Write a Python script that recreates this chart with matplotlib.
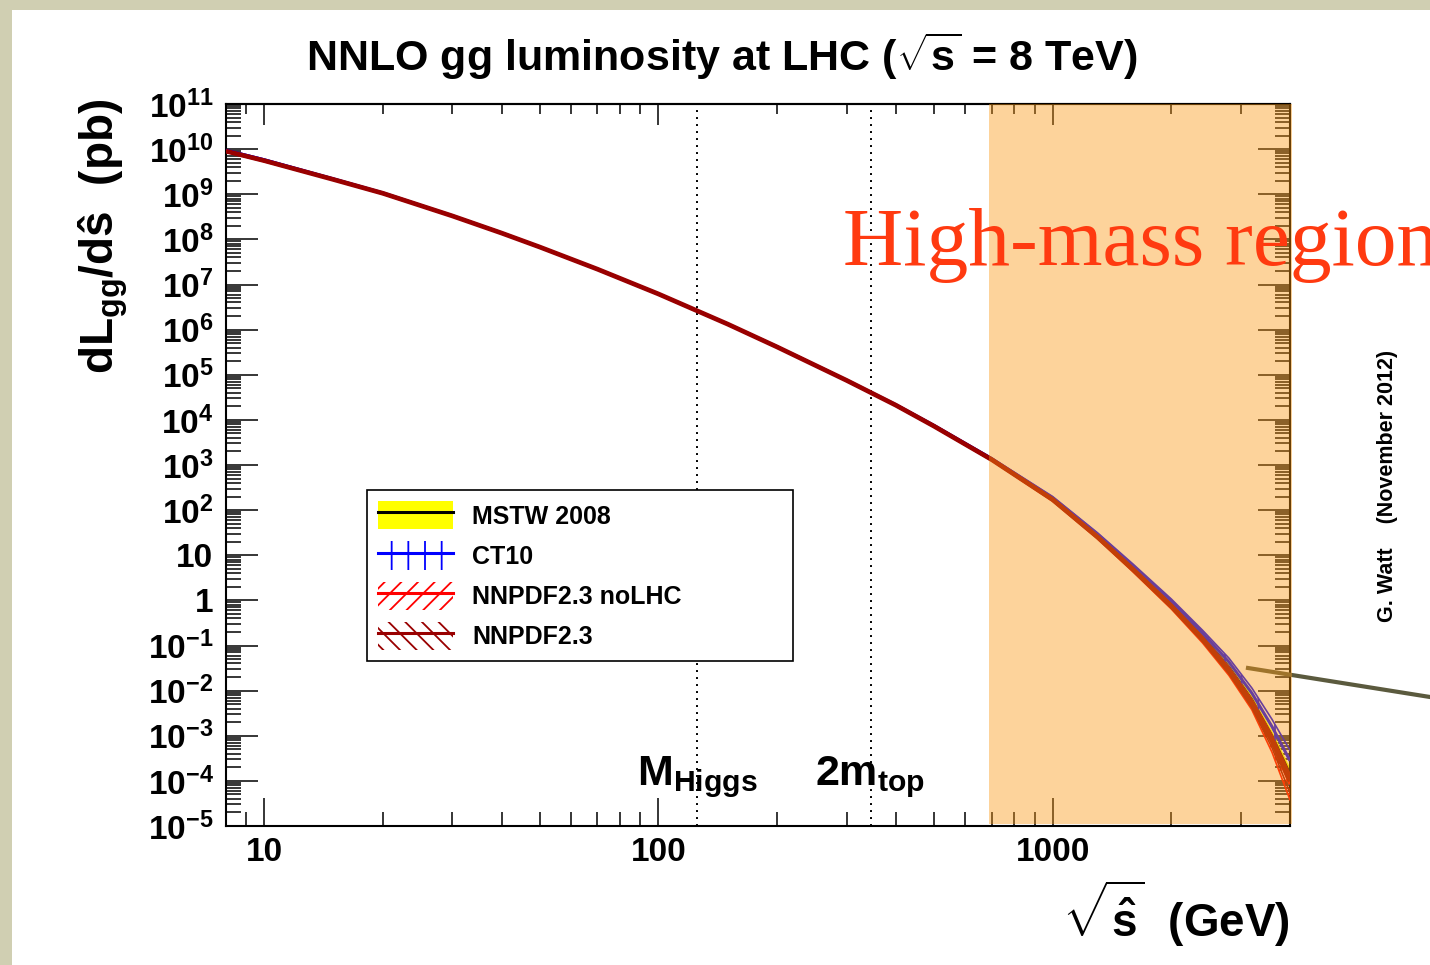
import numpy as np
import matplotlib
matplotlib.use('Agg')
import matplotlib.pyplot as plt
from matplotlib.patches import Rectangle, Patch
from matplotlib.lines import Line2D
from matplotlib.legend_handler import HandlerTuple
import matplotlib.transforms as mtransforms
from matplotlib.ticker import FixedLocator, FixedFormatter, LogLocator, NullFormatter

plt.rcParams['font.family'] = ['Liberation Sans', 'DejaVu Sans']
plt.rcParams['font.weight'] = 'bold'
plt.rcParams['axes.labelweight'] = 'bold'
plt.rcParams['mathtext.fontset'] = 'custom'
plt.rcParams['mathtext.rm'] = 'Liberation Sans:bold'
plt.rcParams['mathtext.it'] = 'Liberation Sans:bold'
plt.rcParams['mathtext.bf'] = 'Liberation Sans:bold'
plt.rcParams['mathtext.sf'] = 'Liberation Sans:bold'
plt.rcParams['hatch.linewidth'] = 1.3

# ---------------- data ----------------
sqrt_s_hat = [8, 10, 15, 20, 30, 40, 50, 70, 100, 150, 200, 300, 400, 500,
              700, 1000, 1300, 1600, 2000, 2400, 2800, 3200, 3600, 4000]
lum_mstw = [9.12e9, 5.62e9, 2.14e9, 1.05e9, 3.31e8, 1.38e8, 6.76e7, 2.19e7,
            6.17e6, 1.32e6, 4.17e5, 7.59e4, 2.14e4, 7.41e3, 1.35e3, 178.0,
            26.9, 5.25, 0.832, 0.158, 0.0331, 0.00631, 0.00100, 1.4e-4]
mstw_err = [0.03, 0.03, 0.03, 0.03, 0.03, 0.03, 0.03, 0.03, 0.03, 0.03, 0.03,
            0.03, 0.04, 0.04, 0.05, 0.06, 0.08, 0.10, 0.12, 0.16, 0.20, 0.24,
            0.30, 0.40]
ct10_ratio = [1.03, 1.03, 1.02, 1.02, 1.01, 1.01, 1.0, 1.0, 1.0, 1.0, 1.0,
              1.0, 1.01, 1.01, 1.02, 1.05, 1.08, 1.10, 1.15, 1.20, 1.30, 1.40,
              1.60, 2.00]
ct10_err = [0.04, 0.04, 0.03, 0.03, 0.03, 0.03, 0.03, 0.03, 0.03, 0.03, 0.03,
            0.03, 0.04, 0.04, 0.05, 0.07, 0.08, 0.10, 0.12, 0.15, 0.22, 0.30,
            0.45, 0.70]
nnpdf_nolhc_ratio = [0.98, 0.98, 0.99, 0.99, 1.0, 1.0, 1.0, 1.0, 1.0, 1.0,
                     0.99, 0.99, 0.98, 0.98, 0.97, 0.95, 0.93, 0.90, 0.88,
                     0.85, 0.82, 0.80, 0.72, 0.60]
nnpdf_nolhc_err = [0.04, 0.04, 0.03, 0.03, 0.03, 0.03, 0.03, 0.03, 0.03, 0.03,
                   0.03, 0.03, 0.04, 0.04, 0.05, 0.07, 0.08, 0.10, 0.12, 0.15,
                   0.20, 0.25, 0.40, 0.55]
nnpdf_ratio = [0.99, 0.99, 0.99, 1.0, 1.0, 1.0, 1.0, 1.0, 1.0, 1.0, 0.99,
               0.99, 0.99, 0.98, 0.98, 0.96, 0.94, 0.92, 0.90, 0.88, 0.85,
               0.83, 0.78, 0.70]
nnpdf_err = [0.03, 0.03, 0.03, 0.03, 0.03, 0.03, 0.03, 0.03, 0.03, 0.03,
             0.03, 0.03, 0.03, 0.04, 0.04, 0.05, 0.06, 0.08, 0.10, 0.12,
             0.16, 0.20, 0.30, 0.45]

legend_labels = ['MSTW 2008', 'CT10', 'NNPDF2.3 noLHC', 'NNPDF2.3']
m_higgs = 125.0
two_m_top = 346.0
high_mass_start = 690.0

xtick_values = [10, 100, 1000]
xtick_labels = ['10', '100', '1000']
ytick_values = [10.0 ** k for k in range(-5, 12)]
ytick_labels = ['$10^{-5}$', '$10^{-4}$', '$10^{-3}$', '$10^{-2}$', '$10^{-1}$',
                '1', '10', '$10^{2}$', '$10^{3}$', '$10^{4}$', '$10^{5}$',
                '$10^{6}$', '$10^{7}$', '$10^{8}$', '$10^{9}$', '$10^{10}$',
                '$10^{11}$']

# ---------------- figure ----------------
W, H = 1430, 965
fig = plt.figure(figsize=(W / 100, H / 100), dpi=100)
fig.patch.set_facecolor('#d0cfb2')
fig.add_artist(Rectangle((12 / W, 0), 1 - 12 / W, 1 - 10 / H,
                         transform=fig.transFigure, facecolor='white',
                         edgecolor='none', zorder=-10))

ax = fig.add_axes([226 / W, 1 - 826 / H, 1064 / W, 722 / H])
ax.set_xscale('log')
ax.set_yscale('log')
ax.set_xlim(8, 4000)
ax.set_ylim(1e-5, 1e11)
ax.set_facecolor('none')

x = np.array(sqrt_s_hat, dtype=float)
mstw = np.array(lum_mstw)

sets = [
    ('MSTW 2008', np.ones_like(mstw), np.array(mstw_err), 'black', None),
    ('CT10', np.array(ct10_ratio), np.array(ct10_err), '#0000ff', '|'),
    ('NNPDF2.3 noLHC', np.array(nnpdf_nolhc_ratio), np.array(nnpdf_nolhc_err), '#ff0000', '//'),
    ('NNPDF2.3', np.array(nnpdf_ratio), np.array(nnpdf_err), '#990000', '\\\\'),
]

z = 2.0
for name, ratio, err, col, hatch in sets:
    cen = mstw * ratio
    up = cen * (1 + err)
    lo = cen * (1 - err)
    if hatch is None:
        ax.fill_between(x, lo, up, facecolor='#ffff00', edgecolor='none', zorder=z)
        ax.plot(x, cen, color=col, lw=2.0, zorder=z + 0.1)
    else:
        ax.fill_between(x, lo, up, facecolor='none', edgecolor=col, hatch=hatch,
                        linewidth=0, zorder=z)
        ax.plot(x, up, color=col, lw=1.2, zorder=z + 0.1)
        ax.plot(x, lo, color=col, lw=1.2, zorder=z + 0.1)
        ax.plot(x, cen, color=col, lw=3.4 if name == 'NNPDF2.3' else 2.2,
                zorder=z + 0.2, solid_capstyle='butt')
    z += 0.5

# vertical dotted lines
for xv in (m_higgs, two_m_top):
    ax.axvline(xv, color='black', ls=(0, (1, 2.6)), lw=1.4, zorder=1.8)

# ticks
ax.xaxis.set_major_locator(FixedLocator(xtick_values))
ax.xaxis.set_major_formatter(FixedFormatter(xtick_labels))
ax.xaxis.set_minor_locator(LogLocator(base=10, subs=np.arange(2, 10), numticks=50))
ax.xaxis.set_minor_formatter(NullFormatter())
ax.yaxis.set_major_locator(FixedLocator(ytick_values))
ax.yaxis.set_major_formatter(FixedFormatter(ytick_labels))
ax.yaxis.set_minor_locator(LogLocator(base=10, subs=np.arange(2, 10), numticks=100))
ax.yaxis.set_minor_formatter(NullFormatter())

ax.tick_params(axis='y', which='both', direction='in', left=True, right=True,
               labelsize=24, pad=9, width=1.1)
ax.tick_params(axis='y', which='major', length=23)
ax.tick_params(axis='y', which='minor', length=11)
ax.tick_params(axis='x', which='both', direction='in', bottom=True, top=False,
               labelsize=24, pad=8, width=1.1)
ax.tick_params(axis='x', which='major', length=20)
ax.tick_params(axis='x', which='minor', length=10)

sec = ax.secondary_xaxis('top')
sec.xaxis.set_major_locator(FixedLocator(xtick_values))
sec.xaxis.set_minor_locator(LogLocator(base=10, subs=np.arange(2, 10), numticks=50))
sec.xaxis.set_minor_formatter(NullFormatter())
sec.tick_params(axis='x', which='both', direction='in', labeltop=False, width=1.1)
sec.tick_params(axis='x', which='major', length=15)
sec.tick_params(axis='x', which='minor', length=7.5)
sec.spines['top'].set_linewidth(1.5)

for sp in ax.spines.values():
    sp.set_linewidth(1.5)

# annotations
ax.text(88, 8.1e-5, r'M$_{\mathrm{Higgs}}$', fontsize=31, va='baseline', ha='left', zorder=3)
ax.text(249, 8.1e-5, r'2m$_{\mathrm{top}}$', fontsize=31, va='baseline', ha='left', zorder=3)

# legend
handles = [
    (Patch(facecolor='#ffff00', edgecolor='none'), Line2D([], [], color='black', lw=2.2)),
    (Patch(facecolor='none', edgecolor='#0000ff', hatch='|', lw=0), Line2D([], [], color='#0000ff', lw=2.2)),
    (Patch(facecolor='none', edgecolor='#ff0000', hatch='//', lw=0), Line2D([], [], color='#ff0000', lw=2.2)),
    (Patch(facecolor='none', edgecolor='#990000', hatch='\\\\', lw=0), Line2D([], [], color='#990000', lw=2.2)),
]
leg = ax.legend(handles, legend_labels, handler_map={tuple: HandlerTuple(ndivide=1, pad=0)},
                loc='upper left', bbox_to_anchor=(0.1325, 0.1994, 0.4005, 0.266),
                mode='expand', frameon=True, fancybox=False, edgecolor='black',
                framealpha=1, fontsize=18, handlelength=3.0, handleheight=1.36,
                handletextpad=0.75, labelspacing=0.48, borderpad=0.45, borderaxespad=0)
leg.get_frame().set_linewidth(1.2)
leg.set_zorder(6)

# axis titles
ax.set_xlabel(r'$\sqrt{\hat{\mathrm{s}}}$  (GeV)', fontsize=33, ha='right',
              fontweight='bold')
ax.xaxis.set_label_coords(1.0, -0.072)
ax.xaxis.label.set_va('top')
fig.text(103 / W, 1 - 236 / H, 'dL$_{\\mathrm{gg}}$/dŝ  (pb)', rotation=90,
         ha='center', va='center', fontsize=33)
fig.text(722 / W, 1 - 56 / H, r'NNLO gg luminosity at LHC ($\sqrt{\mathrm{s}}$ = 8 TeV)',
         ha='center', va='center', fontsize=31)

# pointer line (under the overlay)
ax.add_line(Line2D([1248 / W, 1.0], [1 - 668 / H, 1 - 697 / H], transform=fig.transFigure,
                   color='#5b5a3e', lw=3.0, clip_on=False, zorder=9))

# high-mass overlay
blend = mtransforms.blended_transform_factory(ax.transData, ax.transAxes)
ax.add_patch(Rectangle((high_mass_start, 0.003), 4040 - high_mass_start, 0.997,
                       transform=blend, facecolor='#fc9811', alpha=0.42,
                       edgecolor='none', clip_on=False, zorder=10))

fig.text(843 / W, 1 - 265 / H, 'High-mass region', fontfamily='Liberation Serif',
         fontweight='normal', fontsize=60, color='#ff3a10', va='baseline', ha='left',
         zorder=20)
fig.text(1387 / W, 1 - 486 / H, 'G. Watt    (November 2012)', rotation=90,
         ha='center', va='center', fontsize=15.5, zorder=20)

fig.savefig('out.png', dpi=100, facecolor=fig.get_facecolor())
